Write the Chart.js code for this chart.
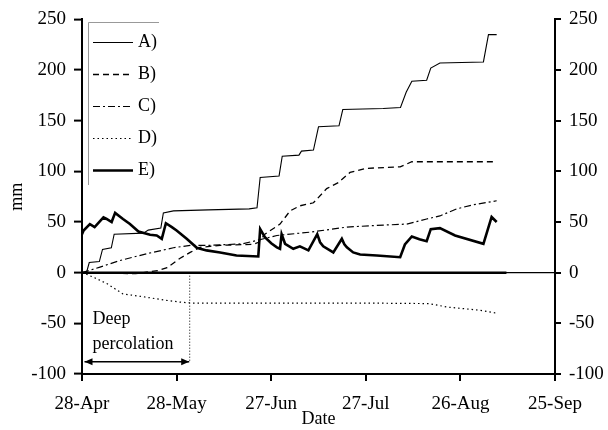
<!DOCTYPE html>
<html lang="en">
<head>
    <meta charset="UTF-8">
    <title>Water balance</title>
    <script src="https://cdn.jsdelivr.net/npm/chart.js"></script>
    <style>
        body { margin: 0; background: #fff; }
        #wrap { width: 608px; height: 430px; }
    </style>
</head>
<body>
<div id="wrap"><canvas id="myChart"></canvas></div>

<script>
    // x ticks: days after 28-Apr, every 30 days
    const dateLabels = ['28-Apr', '28-May', '27-Jun', '27-Jul', '26-Aug', '25-Sep'];

    // A) thin solid
    const aDays = [0, 1.5, 2.3, 5.5, 6.5, 9.3, 10.2, 19.5, 21, 25, 25.8, 29, 40, 53, 55.5, 56.5, 62.5, 63.5, 68.8, 69.6, 73.4, 75, 81.5, 82.7, 95.5, 101, 102.8, 104.6, 109.3, 110.6, 113.5, 127.3, 128.9, 131.5];
    const aVals = [0, 1, 10, 11, 23, 24.5, 38, 39, 42, 44, 59, 61, 62, 63, 64, 94, 95.5, 115, 116, 120, 121, 144, 145, 161, 162, 163, 178, 189, 190, 202, 207, 208, 235, 235];

    // B) dashed
    const bDays = [0, 17, 24, 27, 31, 34.3, 37.4, 40.6, 43.8, 54.3, 56, 58, 62.8, 66, 69.1, 73.4, 77.6, 81.3, 85, 90.3, 100.9, 104.6, 131.5];
    const bVals = [0, -1, 2, 5, 14, 20, 25, 26, 27, 28, 30, 38, 48, 61, 66, 69, 83, 89, 99, 103, 104.5, 109.5, 109.5];

    // C) dash-dot
    const cDays = [0, 5.7, 12, 20.5, 29, 34.3, 40.6, 51, 61.8, 72.3, 84, 92.4, 103, 109.3, 113.5, 118.8, 124.1, 131.5];
    const cVals = [0, 5.5, 12, 18.7, 24.6, 27, 27, 28.5, 36.7, 40, 45, 46.5, 48, 53, 56, 63, 67, 71];

    // D) dotted
    const dDays = [0, 1, 4, 8, 13, 20, 26, 31, 35, 60, 90, 110, 116, 126, 131.5];
    const dVals = [0, -1, -5, -11, -21, -24, -27, -29, -30, -30, -30, -30.5, -34, -37, -40];

    // E) thick solid
    const eDays = [0, 0.5, 2.5, 4, 6.8, 7.8, 9.4, 10.5, 13, 15.2, 17.9, 21.6, 23.7, 25.3, 26.6, 28.5, 30, 33.2, 36.4, 39.5, 43.8, 49, 55.9, 56.5, 58, 60, 61.8, 62.8, 63.3, 64.4, 67, 69.1, 71.8, 74.6, 75.5, 76.5, 79.7, 82.4, 83.2, 84, 86, 88.2, 93.5, 100.9, 102.4, 104.6, 107, 109.3, 110.6, 113.5, 118.3, 127.3, 129.9, 131.5];
    const eVals = [38, 41.6, 48, 45, 54.7, 53, 50, 59, 53, 48, 40.6, 37.4, 36.7, 33.4, 48.8, 45, 41.6, 33.4, 24.6, 22, 20, 17, 16, 43, 35, 29, 25, 23.6, 38, 28.5, 23.6, 26, 22, 38, 30, 26, 20, 33.4, 28, 25, 20, 18, 17, 15.3, 27.8, 35.7, 33, 31, 43, 44, 36.7, 28.5, 55, 50];

    // heavy zero line
    const baseDays = [0, 134.6];
    const baseVals = [0, 0];

    // deep percolation marker
    const percStart = 0.8;
    const percEnd = 34;
    const percLevel = -88;

    const serif = '"Liberation Serif", "DejaVu Serif", serif';

    function pts(days, vals) {
        return days.map((d, i) => ({x: d, y: vals[i]}));
    }

    const overlay = {
        id: 'overlay',
        afterDatasetsDraw(chart) {
            const ctx = chart.ctx;
            const x = chart.scales.x, y = chart.scales.y;
            ctx.save();
            ctx.strokeStyle = '#000';
            ctx.fillStyle = '#000';

            // vertical dotted marker
            const xe = x.getPixelForValue(percEnd);
            const xs = x.getPixelForValue(percStart);
            const ya = y.getPixelForValue(percLevel);
            const y0 = y.getPixelForValue(0);
            ctx.lineWidth = 1;
            ctx.setLineDash([1, 2]);
            ctx.beginPath();
            ctx.moveTo(xe + 0.5, y0);
            ctx.lineTo(xe + 0.5, ya);
            ctx.stroke();
            ctx.setLineDash([]);

            // double arrow
            ctx.lineWidth = 1.5;
            ctx.beginPath();
            ctx.moveTo(xs, ya);
            ctx.lineTo(xe, ya);
            ctx.stroke();
            [[xs, 1], [xe, -1]].forEach(([px, dir]) => {
                ctx.beginPath();
                ctx.moveTo(px, ya);
                ctx.lineTo(px + dir * 8, ya - 3.5);
                ctx.lineTo(px + dir * 8, ya + 3.5);
                ctx.closePath();
                ctx.fill();
            });

            ctx.font = '18px ' + serif;
            ctx.textBaseline = 'middle';
            ctx.textAlign = 'left';
            ctx.fillText('Deep', xs + 8, ya - 43);
            ctx.fillText('percolation', xs + 8, ya - 18);

            // legend box (top + left edges)
            const lx = chart.chartArea.left + 6, ly = 22;
            ctx.strokeStyle = '#999';
            ctx.lineWidth = 1;
            ctx.beginPath();
            ctx.moveTo(lx + 71, ly + 0.5);
            ctx.lineTo(lx + 0.5, ly + 0.5);
            ctx.lineTo(lx + 0.5, ly + 163);
            ctx.stroke();

            const legendSets = chart.data.datasets.filter(ds => ds.label);
            legendSets.forEach((ds, i) => {
                const ry = 42.5 + i * 32;
                ctx.strokeStyle = '#000';
                ctx.lineWidth = ds.borderWidth;
                ctx.setLineDash(ds.borderDash || []);
                ctx.beginPath();
                ctx.moveTo(lx + 5, ry);
                ctx.lineTo(lx + 45, ry);
                ctx.stroke();
                ctx.setLineDash([]);
                ctx.font = '18px ' + serif;
                ctx.fillText(ds.label, lx + 50, ry);
            });
            ctx.restore();
        }
    };

    const lineBase = {
        borderColor: '#000',
        pointRadius: 0,
        fill: false,
        tension: 0
    };

    new Chart(document.getElementById('myChart'), {
        type: 'line',
        data: {
            datasets: [
                Object.assign({label: 'A)', data: pts(aDays, aVals), borderWidth: 1.1}, lineBase),
                Object.assign({label: 'B)', data: pts(bDays, bVals), borderWidth: 1.3, borderDash: [6, 4]}, lineBase),
                Object.assign({label: 'C)', data: pts(cDays, cVals), borderWidth: 1.2, borderDash: [7, 3, 2, 3]}, lineBase),
                Object.assign({label: 'D)', data: pts(dDays, dVals), borderWidth: 1.2, borderDash: [1.5, 3]}, lineBase),
                Object.assign({label: 'E)', data: pts(eDays, eVals), borderWidth: 2.6}, lineBase),
                Object.assign({label: '', data: pts(baseDays, baseVals), borderWidth: 2.5}, lineBase)
            ]
        },
        options: {
            responsive: true,
            maintainAspectRatio: false,
            animation: false,
            layout: {padding: {top: 18, left: 0, right: 0, bottom: 0}},
            plugins: {legend: {display: false}, tooltip: {enabled: false}},
            scales: {
                x: {
                    type: 'linear',
                    min: 0, max: 150,
                    afterFit: s => { s.height = 56; },
                    afterBuildTicks: s => { s.ticks = dateLabels.map((_, i) => ({value: i * 30})); },
                    ticks: {
                        callback: v => dateLabels[Math.round(v / 30)],
                        color: '#000', font: {family: serif, size: 19}, padding: 12, maxRotation: 0
                    },
                    grid: {drawOnChartArea: false, color: '#000', tickColor: '#000', tickLength: 7, lineWidth: 2},
                    border: {color: '#000', width: 2},
                    title: {display: true, text: 'Date', color: '#000', font: {family: serif, size: 18}, padding: {top: -12, bottom: 0}}
                },
                y: {
                    position: 'left',
                    min: -100, max: 250,
                    afterFit: s => { s.width = 82; },
                    ticks: {stepSize: 50, color: '#000', font: {family: serif, size: 19}, padding: 8},
                    grid: {
                        color: c => (c.tick && c.tick.value === 0 ? '#000' : 'rgba(0,0,0,0)'),
                        tickColor: '#000', tickLength: 8, lineWidth: 1.2, tickWidth: 2
                    },
                    border: {color: '#000', width: 2},
                    title: {display: true, text: 'mm', color: '#000', font: {family: serif, size: 18}, padding: {top: 0, bottom: 0}},
                    afterUpdate: s => { s.options.title.padding = {top: 6, bottom: 0}; }
                },
                y2: {
                    position: 'right',
                    min: -100, max: 250,
                    afterFit: s => { s.width = 53; },
                    ticks: {stepSize: 50, color: '#000', font: {family: serif, size: 19}, padding: 8},
                    grid: {drawOnChartArea: false, color: '#000', tickColor: '#000', tickLength: 6, lineWidth: 2},
                    border: {color: '#000', width: 2}
                }
            }
        },
        plugins: [overlay]
    });
</script>
</body>
</html>
